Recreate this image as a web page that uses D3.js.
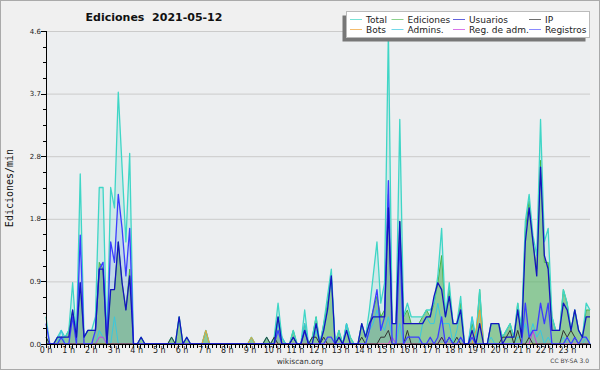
<!DOCTYPE html>
<html>
<head>
<meta charset="utf-8">
<script src="https://cdn.jsdelivr.net/npm/d3@7"></script>
<style>
  body { margin: 0; background: #f0f0f0; }
  svg { display: block; }
</style>
</head>
<body>
<div id="wrapper"></div>
<script>
// edits per minute, one value per 10-minute slot (144 slots)
const total = [
  0.4,0,0,0.1,0.2,0.1,0.2,0.9,0.1,2.5,0.1,0.2,
  0.2,0.4,2.3,2.3,0,2.3,2.0,3.7,2.6,1.5,2.8,0,
  0,0.1,0,0,0,0,0,0,0,0.1,0,0.4,
  0,0.1,0,0,0,0,0.2,0,0,0,0,0,
  0,0,0,0,0,0,0.1,0,0,0,0.1,0,
  0.1,0.6,0.1,0,0,0.2,0,0,0.5,0,0.1,0.4,
  0,0.3,0.7,1.1,0,0.2,0,0.3,0.1,0,0,0.3,
  0.1,0.5,1.0,1.5,0.6,0.9,4.6,0.3,0.3,3.3,0.4,0.6,
  0.4,0.4,0.4,0.4,0.5,0.5,0.6,1.0,1.7,0.4,0.9,0.3,
  0.3,0.7,0,0,0.4,0.1,0.8,0,0,0.3,0.3,0.3,
  0.1,0.2,0.3,0.1,0.6,0.2,1.8,2.2,1.6,1.3,3.3,1.5,
  1.7,0.4,0.2,0.2,0.8,0.6,0.2,0.5,0.2,0.1,0.6,0.5
]
const ediciones = [
  0.1,0,0,0.1,0.1,0.1,0.2,0.5,0.1,0.9,0.1,0.2,
  0.2,0.2,1.2,1.1,0,0.8,0.8,1.5,0.9,0.5,1.1,0,
  0,0.1,0,0,0,0,0,0,0,0.1,0,0.4,
  0,0.1,0,0,0,0,0.2,0,0,0,0,0,
  0,0,0,0,0,0,0.1,0,0,0,0.1,0,
  0.1,0.4,0.1,0,0,0.2,0,0,0.3,0,0.1,0.4,
  0,0.3,0.6,1.0,0,0.2,0,0.3,0.1,0,0,0.3,
  0.1,0.3,0.5,0.7,0.4,0.5,2.2,0.3,0.3,1.8,0.4,0.5,
  0.3,0.3,0.3,0.4,0.5,0.4,0.6,0.9,1.3,0.4,0.8,0.3,
  0.3,0.6,0,0,0.3,0.1,0.8,0,0,0.3,0.3,0.3,
  0.1,0.2,0.3,0.1,0.6,0.2,1.7,2.1,1.5,1.1,2.7,1.2,
  1.2,0.4,0.2,0.2,0.8,0.6,0.2,0.5,0.2,0.1,0.5,0.5
]
const usuarios = [
  0,0,0,0.1,0.1,0.1,0.1,0.5,0.1,0.9,0.1,0.2,
  0.2,0.2,1.1,1.1,0,0.8,0.8,1.5,0.9,0.5,1.0,0,
  0,0.1,0,0,0,0,0,0,0,0,0,0.4,
  0,0.1,0,0,0,0,0,0,0,0,0,0,
  0,0,0,0,0,0,0,0,0,0,0,0,
  0,0.4,0,0,0,0.1,0,0,0.2,0,0,0.3,
  0,0.2,0.5,1.0,0,0.1,0,0.2,0,0,0,0.3,
  0.1,0.3,0.4,0.4,0.4,0.4,2.0,0.3,0.3,1.8,0.3,0.3,
  0.3,0.3,0.3,0.3,0.4,0.4,0.7,0.9,0.8,0.4,0.7,0.3,
  0.3,0.5,0,0,0.2,0,0.3,0,0,0.3,0.3,0.3,
  0,0.1,0.1,0.1,0.5,0.1,1.5,2.0,1.5,1.0,2.6,1.3,
  1.1,0.2,0.2,0.2,0.6,0.5,0.2,0.5,0.2,0.1,0.4,0.4
]
const ip = [
  0.1,0,0,0,0,0,0,0,0,0,0,0,
  0,0,0,0,0,0,0,0,0,0,0,0,
  0,0,0,0,0,0,0,0,0,0.1,0,0,
  0,0,0,0,0,0,0,0,0,0,0,0,
  0,0,0,0,0,0,0,0,0,0,0.1,0,
  0.1,0,0,0,0,0.1,0,0,0,0,0.1,0.1,
  0,0.1,0,0,0,0.1,0,0,0,0,0,0.1,
  0,0,0,0,0.1,0.1,0.2,0,0,0,0,0.2,
  0,0,0,0,0,0,0,0,0.1,0,0.1,0,
  0.1,0,0,0,0,0,0,0,0,0,0,0,
  0.1,0.1,0.2,0,0.2,0,0,0.1,0,0,0,0,
  0,0,0,0,0.2,0.1,0.2,0.1,0,0,0,0
]
const bots = [
  0,0,0,0,0,0,0,0,0,0,0,0,
  0,0,0,0,0,0,0,0,0,0,0,0,
  0,0,0,0,0,0,0,0,0,0,0,0,
  0,0,0,0,0,0,0.2,0,0,0,0,0,
  0,0,0,0,0,0,0.1,0,0,0,0,0,
  0,0,0,0,0,0,0,0,0,0,0,0,
  0,0,0,0,0,0,0,0,0,0,0,0,
  0,0,0,0,0,0,0,0,0,0,0,0,
  0,0,0,0,0,0,0,0,0,0,0,0,
  0,0,0,0,0,0.2,0.5,0,0,0,0,0,
  0,0,0,0,0,0,0,0,0,0,0,0,
  0,0,0,0,0,0,0,0,0,0,0,0
]
const admins = [
  0,0,0,0,0.2,0,0,0,0,0,0,0,
  0,0,0.2,0.1,0,0,0.4,0,0,0,0,0,
  0,0,0,0,0,0,0,0,0,0,0,0,
  0,0,0,0,0,0,0,0,0,0,0,0,
  0,0,0,0,0,0,0,0,0,0,0,0,
  0,0.3,0.1,0,0,0.1,0,0,0.3,0,0,0.2,
  0,0.2,0.5,1.0,0,0,0,0.3,0,0,0,0,
  0,0.2,0.3,0.5,0.3,0.2,0.4,0.1,0,0.3,0,0,
  0,0,0,0.3,0.4,0.3,0.3,0.6,0.3,0.3,0.3,0,
  0.2,0.5,0,0,0.4,0,0,0,0,0.1,0,0,
  0,0,0,0,0.1,0.1,0.3,0.1,0.3,0.1,0.2,0,
  0.1,0,0,0,0.1,0,0,0.1,0,0,0.1,0
]
const regAdm = [
  0,0,0,0,0,0,0,0,0,0,0,0,
  0,0,0.1,0.1,0,0,0,0,0,0,0,0,
  0,0,0,0,0,0,0,0,0,0,0,0,
  0,0,0,0,0,0,0,0,0,0,0,0,
  0,0,0,0,0,0,0,0,0,0,0,0,
  0,0,0,0,0,0,0,0,0,0,0,0,
  0,0,0,0,0,0,0,0,0,0,0,0,
  0,0,0,0,0,0,0,0.1,0,0,0,0,
  0,0,0,0,0,0,0,0,0.1,0,0,0,
  0,0,0,0,0,0,0,0,0,0,0,0,
  0,0,0,0,0,0,0,0,0.2,0,0,0,
  0,0,0,0,0,0,0,0,0,0,0,0
]
const registros = [
  0.3,0,0,0,0.1,0,0,0.4,0,1.6,0,0,
  0,0.2,1.1,1.2,0,1.5,1.2,2.2,1.7,1.0,1.7,0,
  0,0,0,0,0,0,0,0,0,0,0,0,
  0,0,0,0,0,0,0,0,0,0,0,0,
  0,0,0,0,0,0,0,0,0,0,0,0,
  0,0.2,0,0,0,0,0,0,0.2,0,0,0,
  0,0,0.1,0.1,0,0,0,0,0,0,0,0,
  0,0.2,0.5,0.8,0.2,0.4,2.4,0,0,1.5,0,0.1,
  0.1,0.1,0.1,0,0,0.1,0,0.1,0.4,0,0.1,0,
  0,0.1,0,0,0.1,0,0,0,0,0,0,0,
  0,0,0,0,0,0,0.6,0.1,0.2,0.2,0.6,0.3,
  0.6,0,0,0,0,0.1,0,0.1,0,0.1,0.1,0
]
const yTicks = [0, 0.92, 1.84, 2.76, 3.68, 4.6]
const hours = d3.range(0, 24)

const legendItems = [
  {name: "Total", color: "#3fd6c6"},
  {name: "Ediciones", color: "#5cbf5c"},
  {name: "Usuarios", color: "#2020d0"},
  {name: "IP", color: "#333333"},
  {name: "Bots", color: "#f0a030"},
  {name: "Admins.", color: "#38c8e0"},
  {name: "Reg. de adm.", color: "#c83ce0"},
  {name: "Registros", color: "#5a5aff"}
]

const W = 600, H = 370
const plot = {left: 46, right: 590, top: 31, bottom: 344}

const svg = d3.select("#wrapper").append("svg")
    .attr("width", W)
    .attr("height", H)
    .style("font-family", "'DejaVu Sans', sans-serif")

svg.append("rect").attr("x", 0.5).attr("y", 0.5)
    .attr("width", W - 1).attr("height", H - 1)
    .attr("fill", "#f0f0f0").attr("stroke", "#aaaaaa")

svg.append("rect")
    .attr("x", plot.left).attr("y", plot.top)
    .attr("width", plot.right - plot.left).attr("height", plot.bottom - plot.top)
    .attr("fill", "#eceef0")

const x = d3.scaleLinear().domain([0, total.length - 1]).range([plot.left, plot.right])
const xh = d3.scaleLinear().domain([0, 24]).range([plot.left, plot.right])
const y = d3.scaleLinear().domain([0, 4.6]).range([plot.bottom, plot.top])

// grid
svg.append("g").selectAll("line")
    .data(yTicks.slice(1))
    .enter().append("line")
    .attr("x1", plot.left).attr("x2", plot.right)
    .attr("y1", d => y(d) + 0.5).attr("y2", d => y(d) + 0.5)
    .attr("stroke", "#cbcbcb")

const area = d3.area().x((d, i) => x(i)).y0(y(0)).y1(d => y(d))
const line = d3.line().x((d, i) => x(i)).y(d => y(d))

svg.append("path").datum(total).attr("d", area).attr("fill", "rgba(64,214,198,0.16)")
svg.append("path").datum(ediciones).attr("d", area).attr("fill", "rgba(90,175,90,0.55)")
svg.append("path").datum(registros).attr("d", area).attr("fill", "rgba(70,80,240,0.10)")

const series = [
  [ediciones, "#46b446", 1],
  [total, "#3fd6c6", 1.3],
  [admins, "#38c8e0", 1],
  [bots, "#f0a030", 1],
  [regAdm, "#c83ce0", 1],
  [ip, "#333333", 1],
  [registros, "#3c3cff", 1.3],
  [usuarios, "#1414c0", 1.3]
]
series.forEach(s => {
  svg.append("path").datum(s[0])
      .attr("d", line)
      .attr("fill", "none")
      .attr("stroke", s[1])
      .attr("stroke-width", s[2])
      .attr("stroke-linejoin", "round")
})

// y axis
const yAxis = svg.append("g")
yAxis.append("line").attr("x1", plot.left + 0.5).attr("x2", plot.left + 0.5)
    .attr("y1", plot.top).attr("y2", plot.bottom + 1).attr("stroke", "#000")
yAxis.selectAll(".minor")
    .data(d3.range(0, 21).map(k => k * 4.6 / 20))
    .enter().append("line")
    .attr("x1", (d, i) => i % 4 == 0 ? plot.left - 5 : plot.left - 3)
    .attr("x2", plot.left)
    .attr("y1", d => Math.round(y(d)) + 0.5).attr("y2", d => Math.round(y(d)) + 0.5)
    .attr("stroke", "#000")
yAxis.selectAll("text")
    .data(yTicks)
    .enter().append("text")
    .attr("x", plot.left - 5)
    .attr("y", d => y(d) + 2.5)
    .attr("text-anchor", "end")
    .attr("font-size", "7px")
    .attr("fill", "#222")
    .text(d => d3.format(".1f")(d))

// x axis
const xAxis = svg.append("g")
xAxis.append("line").attr("x1", plot.left).attr("x2", plot.right + 1)
    .attr("y1", plot.bottom + 0.5).attr("y2", plot.bottom + 0.5).attr("stroke", "#000")
xAxis.selectAll(".tick")
    .data(d3.range(0, 24 * 6 + 1))
    .enter().append("line")
    .attr("x1", d => Math.round(xh(d / 6)) + 0.5).attr("x2", d => Math.round(xh(d / 6)) + 0.5)
    .attr("y1", plot.bottom).attr("y2", plot.bottom + 4)
    .attr("stroke", "#000")
xAxis.selectAll("text")
    .data(hours)
    .enter().append("text")
    .attr("x", d => xh(d))
    .attr("y", 353)
    .attr("text-anchor", "middle")
    .attr("font-size", "8px")
    .attr("fill", "#222")
    .text(d => d + " h")

svg.append("text")
    .attr("transform", "translate(13,188) rotate(-90)")
    .attr("text-anchor", "middle")
    .attr("font-family", "'DejaVu Sans Mono', monospace")
    .attr("font-size", "10px")
    .attr("fill", "#111")
    .text("Ediciones/min")

svg.append("text")
    .attr("x", 154).attr("y", 21)
    .attr("text-anchor", "middle")
    .attr("font-size", "11px")
    .attr("font-weight", "bold")
    .attr("fill", "#111")
    .attr("xml:space", "preserve")
    .text("Ediciones  2021-05-12")

svg.append("text")
    .attr("x", 300).attr("y", 364)
    .attr("text-anchor", "middle")
    .attr("font-size", "7.5px")
    .attr("fill", "#333")
    .text("wikiscan.org")

svg.append("text")
    .attr("x", 589).attr("y", 363)
    .attr("text-anchor", "end")
    .attr("font-size", "6px")
    .attr("fill", "#444")
    .text("CC BY-SA 3.0")

// legend
const legend = svg.append("g")
legend.append("rect").attr("x", 342.5).attr("y", 15.5).attr("width", 243).attr("height", 26)
    .attr("fill", "#777")
legend.append("rect").attr("x", 346.5).attr("y", 11.5).attr("width", 243).attr("height", 26)
    .attr("fill", "#fff").attr("stroke", "#bbb")
const colX = [350, 391.5, 453, 529]
legendItems.forEach((d, i) => {
  const cx = colX[i % 4]
  const cy = i < 4 ? 19.5 : 29.5
  legend.append("line").attr("x1", cx).attr("x2", cx + 12)
      .attr("y1", cy).attr("y2", cy).attr("stroke", d.color).attr("opacity", 0.7)
  legend.append("text").attr("x", cx + 16).attr("y", cy + 3)
      .attr("font-size", "9px").attr("fill", "#222")
      .text(d.name)
})
</script>
</body>
</html>
